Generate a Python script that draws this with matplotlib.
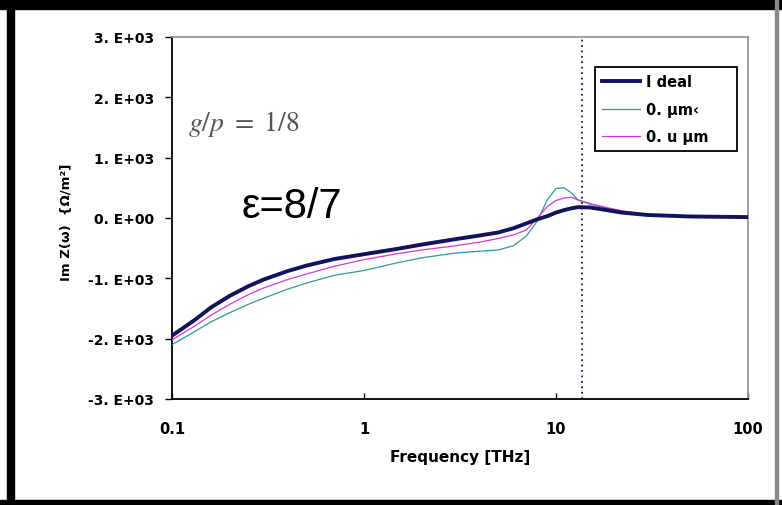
import matplotlib
matplotlib.use("Agg")
import matplotlib.pyplot as plt
import numpy as np
from matplotlib.patches import Rectangle

# Frequency grid (THz)
freq = [0.1, 0.13, 0.16, 0.2, 0.25, 0.3, 0.4, 0.5, 0.7, 1, 1.5, 2, 3, 4, 5, 6, 7,
        8, 9, 10, 11, 12, 13, 15, 18, 22, 30, 50, 100]
ideal = [-1950, -1700, -1480, -1290, -1130, -1020, -880, -790, -680, -600, -510,
         -440, -350, -290, -240, -170, -90, -20, 30, 90, 130, 160, 180, 175, 135,
         90, 50, 25, 15]
teal_s = [-2100, -1890, -1720, -1570, -1430, -1330, -1180, -1080, -950, -870,
          -740, -660, -580, -550, -530, -460, -300, -50, 300, 490, 500, 420, 300,
          230, 170, 110, 55, 25, 15]
magenta_s = [-2020, -1800, -1610, -1430, -1270, -1160, -1020, -930, -800, -690,
             -590, -530, -460, -400, -340, -280, -200, 0, 190, 290, 330, 345, 300,
             240, 180, 120, 60, 25, 15]
labels = ["I deal", "0. μm‹", "0. u μm"]
yticks = [-3000, -2000, -1000, 0, 1000, 2000, 3000]
ytick_labels = ["-3. E+03", "-2. E+03", "-1. E+03", "0. E+00", "1. E+03", "2. E+03", "3. E+03"]
xticks = [0.1, 1, 10, 100]
xtick_labels = ["0.1", "1", "10", "100"]
vline_f = 13.6

W, H = 782, 506
fig = plt.figure(figsize=(W / 100, H / 100), dpi=100)
fig.patch.set_facecolor("white")

# outer frame
fig.add_artist(Rectangle((0, 1 - 10 / H), 1, 10 / H, transform=fig.transFigure,
                         color="black", zorder=0))
fig.add_artist(Rectangle((7 / W, 0), 7 / W, 1, transform=fig.transFigure,
                         color="black", zorder=0))
fig.add_artist(Rectangle((0, 0), 1, 5 / H, transform=fig.transFigure,
                         color="black", zorder=0))
fig.add_artist(Rectangle((775 / W, 0), 3 / W, 1, transform=fig.transFigure,
                         color="#888888", zorder=0))

L, R, T, B = 172, 748, 38, 400
ax = fig.add_axes([L / W, 1 - B / H, (R - L) / W, (B - T) / H])
ax.set_xscale("log")
ax.set_xlim(0.1, 100)
ax.set_ylim(-3000, 3000)

ax.plot(freq, teal_s, color="#2f9a9a", lw=0.9, label=labels[1], zorder=3)
ax.plot(freq, magenta_s, color="#dd33dd", lw=0.9, label=labels[2], zorder=3)
ax.plot(freq, ideal, color="#12125e", lw=2.8, label=labels[0], zorder=4)
ax.axvline(vline_f, color="#1a1a5a", lw=1.3, ls=(0, (1, 2)), zorder=2)

ax.set_yticks(yticks)
ax.set_yticklabels(ytick_labels, fontweight="bold", fontsize=10)
ax.set_xticks(xticks)
ax.set_xticklabels(xtick_labels, fontweight="bold", fontsize=10.5)
ax.xaxis.set_minor_locator(matplotlib.ticker.NullLocator())
ax.tick_params(axis="y", direction="out", length=5, width=1, pad=8)
ax.tick_params(axis="x", direction="in", length=4, width=1, pad=16)

for s in ["left", "bottom"]:
    ax.spines[s].set_color("black")
    ax.spines[s].set_linewidth(1.3)
for s in ["top", "right"]:
    ax.spines[s].set_color("#999999")
    ax.spines[s].set_linewidth(1.3)

ax.set_xlabel("Frequency [THz]", fontweight="bold", fontsize=11, labelpad=9)
fig.text(66 / W, 1 - 222 / H, "Im Z(ω)  {Ω/m²]", rotation=90, fontweight="bold",
         fontsize=9.5, ha="center", va="center")

fig.text(188 / W, 1 - 124 / H, r"$g/p\ =\ 1/8$", fontsize=20, color="#555555",
         ha="left", va="center", math_fontfamily="stix")
fig.text(242 / W, 1 - 207 / H, "ε=8/7", fontsize=30, family="Liberation Sans",
         ha="left", va="center")

h, l = ax.get_legend_handles_labels()
order = [2, 0, 1]
lx0 = (595 - L) / (R - L)
lw_ = (737 - 595) / (R - L)
ltop = (B - 68) / (B - T)
lh = (153 - 68) / (B - T)
leg = ax.legend([h[i] for i in order], [l[i] for i in order],
                loc="upper left", bbox_to_anchor=(lx0, ltop - lh, lw_, lh),
                mode="expand", fancybox=False, edgecolor="black", framealpha=1,
                prop={"weight": "bold", "size": 10.5}, handlelength=2.6,
                borderpad=0.5, labelspacing=0.85, handletextpad=0.4,
                borderaxespad=0)
leg.get_frame().set_linewidth(1.3)

fig.savefig("out.png", dpi=100)
